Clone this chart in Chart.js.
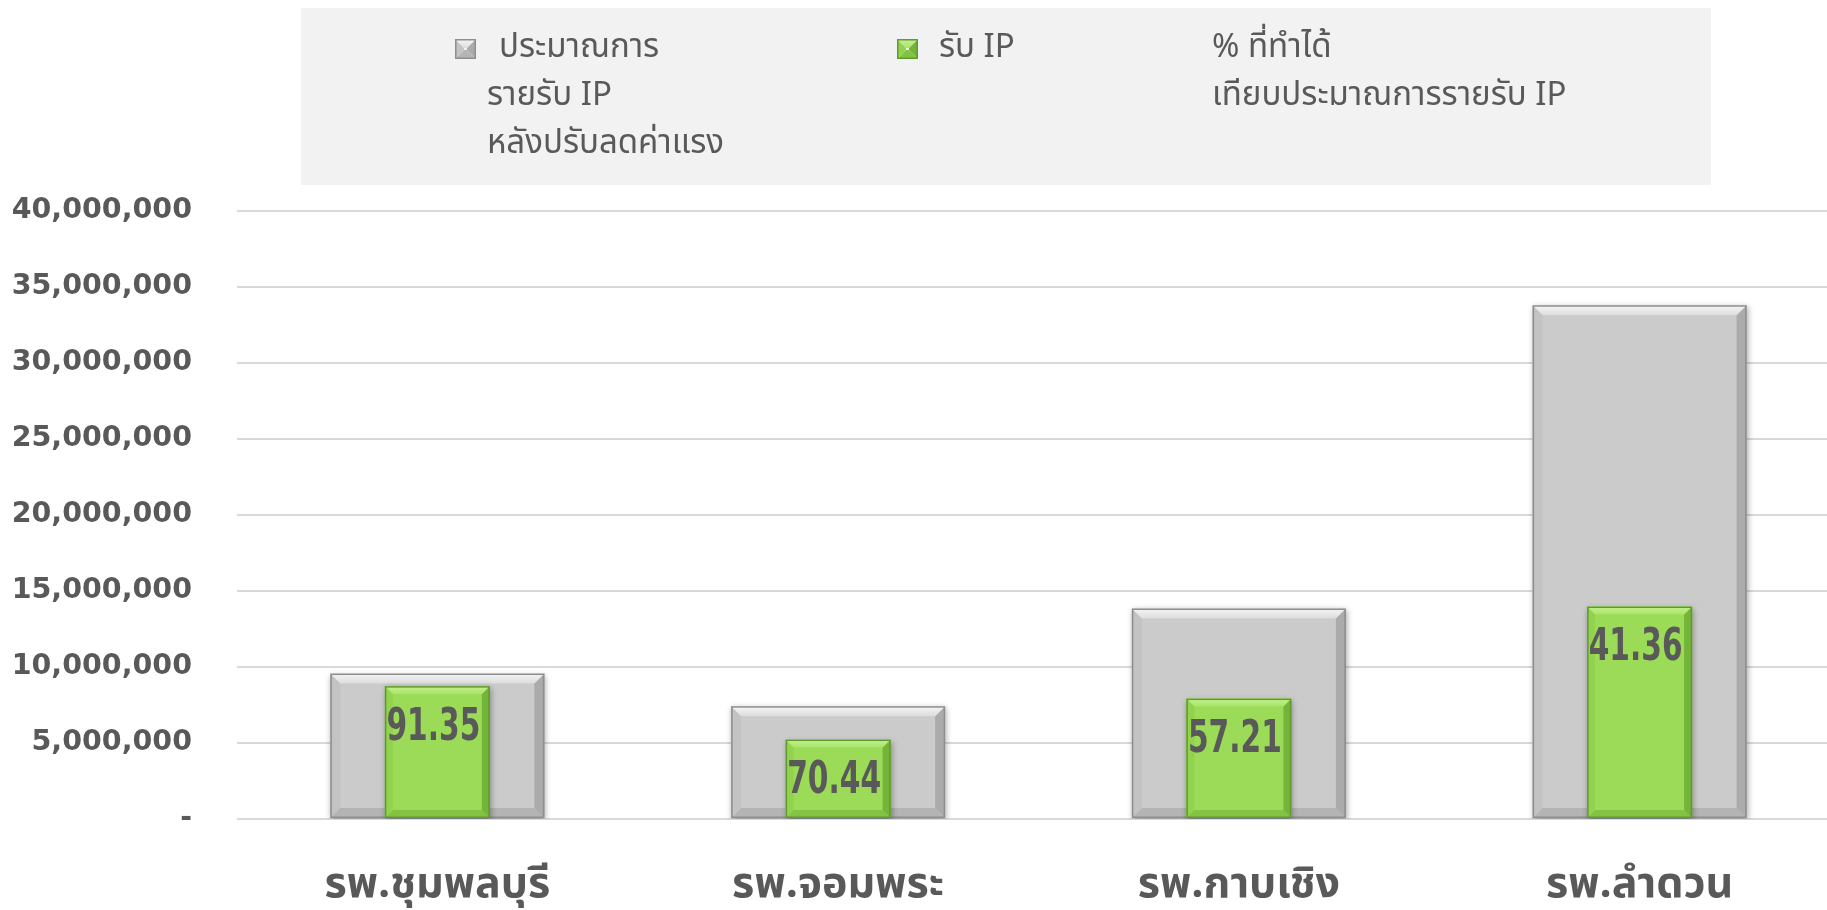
<!DOCTYPE html>
<html><head><meta charset="utf-8">
<script src="https://cdn.jsdelivr.net/npm/chart.js@4.4.1/dist/chart.umd.min.js"></script>
<style>html,body{margin:0;padding:0;background:#fff;overflow:hidden;width:1827px;height:910px}canvas{display:block}</style>
</head><body><canvas id="c" width="1840" height="910"></canvas>
<script>
// ---- data ----
const categories = ['รพ.ชุมพลบุรี', 'รพ.จอมพระ', 'รพ.กาบเชิง', 'รพ.ลำดวน'];
const budgetIP = [9570000, 7420000, 13850000, 33800000];     // ประมาณการรายรับ IP หลังปรับลดค่าแรง
const receivedIP = [8742000, 5227000, 7924000, 13980000];    // รับ IP
const pctAchieved = [91.35, 70.44, 57.21, 41.36];            // % ที่ทำได้
const yTickValues = [0, 5000000, 10000000, 15000000, 20000000, 25000000, 30000000, 35000000, 40000000];
const seriesNames = [
  ['ประมาณการ', 'รายรับ IP', 'หลังปรับลดค่าแรง'],
  ['รับ IP'],
  ['% ที่ทำได้', 'เทียบประมาณการรายรับ IP']
];

const THAI = '"Noto Sans Thai", "Noto Sans", "DejaVu Sans", sans-serif';
const TXT = '#595959';

const styles = {
  gray: {fill: '#cbcbcb', top: ['#f6f6f6', '#dcdcdc'], left: '#c3c3c3', right: '#ababab', bottom: '#b4b4b4', edge: '#8e8e8e'},
  green: {fill: '#9bdb57', top: ['#c4f190', '#a8e468'], left: '#92d34e', right: '#74b438', bottom: '#82c343', edge: '#5f9a2f'}
};

function bevel(ctx, x0, x1, yt, yb, b, s) {
  ctx.save();
  const poly = (pts, fill) => { ctx.beginPath(); ctx.moveTo(pts[0][0], pts[0][1]); for (let i = 1; i < pts.length; i++) ctx.lineTo(pts[i][0], pts[i][1]); ctx.closePath(); ctx.fillStyle = fill; ctx.fill(); };
  const g = ctx.createLinearGradient(0, yt, 0, yt + b);
  g.addColorStop(0, s.top[0]); g.addColorStop(1, s.top[1]);
  poly([[x0, yb], [x1, yb], [x1 - b, yb - b], [x0 + b, yb - b]], s.bottom);
  poly([[x0, yt], [x0 + b, yt + b], [x0 + b, yb - b], [x0, yb]], s.left);
  poly([[x1, yt], [x1, yb], [x1 - b, yb - b], [x1 - b, yt + b]], s.right);
  poly([[x0, yt], [x1, yt], [x1 - b, yt + b], [x0 + b, yt + b]], g);
  ctx.strokeStyle = s.edge; ctx.lineWidth = 1.5;
  ctx.strokeRect(x0 + 0.75, yt + 0.75, x1 - x0 - 1.5, yb - yt - 1.5);
  ctx.restore();
}

const bevelPlugin = {
  id: 'bevel',
  beforeDatasetDraw(chart, args) {
    if (args.meta.type !== 'bar') return;
    const ctx = chart.ctx;
    ctx.save();
    ctx.shadowColor = 'rgba(0,0,0,0.35)';
    ctx.shadowBlur = 6; ctx.shadowOffsetX = 1; ctx.shadowOffsetY = 2;
  },
  afterDatasetDraw(chart, args) {
    if (args.meta.type !== 'bar') return;
    const ctx = chart.ctx;
    ctx.restore();
    const st = args.index === 0 ? styles.gray : styles.green;
    const b = args.index === 0 ? 10 : 8;
    args.meta.data.forEach(el => {
      const p = el.getProps(['x', 'y', 'base', 'width'], true);
      bevel(ctx, p.x - p.width / 2, p.x + p.width / 2, p.y, p.base, b, st);
    });
  }
};

const pctLabels = {
  id: 'pctLabels',
  afterDatasetsDraw(chart) {
    const ctx = chart.ctx;
    const green = chart.getDatasetMeta(1).data;
    const vals = chart.data.datasets[2].data;
    green.forEach((el, i) => {
      ctx.save();
      ctx.translate(el.x - 4, el.y + 42);
      ctx.scale(0.66, 1);
      ctx.font = 'bold 45px "DejaVu Sans", sans-serif';
      ctx.fillStyle = TXT; ctx.textAlign = 'center'; ctx.textBaseline = 'middle';
      ctx.fillText(vals[i].toFixed(2), 0, 0);
      ctx.restore();
    });
  }
};

const boxLegend = {
  id: 'boxLegend',
  beforeDraw(chart) {
    const ctx = chart.ctx;
    ctx.save();
    ctx.fillStyle = '#f2f2f2';
    ctx.fillRect(301, 8, 1410, 177);
    const ds = chart.data.datasets;
    const items = [
      {mx: 455, tx: 499, tx2: 487, st: styles.gray},
      {mx: 897, tx: 939, tx2: 939, st: styles.green},
      {mx: null, tx: 1212, tx2: 1212, st: null}
    ];
    ctx.font = '33px ' + THAI;
    ctx.textBaseline = 'middle'; ctx.textAlign = 'left';
    items.forEach((it, i) => {
      if (it.st) bevel(ctx, it.mx, it.mx + 21, 39, 59, 9, it.st);
      const lines = ds[i].label;
      lines.forEach((ln, j) => {
        ctx.fillStyle = TXT;
        ctx.fillText(ln, j === 0 ? it.tx : it.tx2, 50 + j * 48);
      });
    });
    ctx.restore();
  }
};

new Chart(document.getElementById('c'), {
  data: {
    labels: categories,
    datasets: [
      {type: 'bar', label: seriesNames[0], data: budgetIP, backgroundColor: styles.gray.fill, grouped: false,
       barPercentage: 0.534, categoryPercentage: 1, order: 2},
      {type: 'bar', label: seriesNames[1], data: receivedIP, backgroundColor: styles.green.fill, grouped: false,
       barPercentage: 0.262, categoryPercentage: 1, order: 1},
      {type: 'line', label: seriesNames[2], data: pctAchieved, yAxisID: 'yPct', showLine: false,
       pointRadius: 0, pointHoverRadius: 0, order: 0}
    ]
  },
  options: {
    responsive: false,
    animation: false,
    devicePixelRatio: 1,
    layout: {padding: {top: 211, left: 0, right: 0, bottom: 0}},
    plugins: {legend: {display: false}, tooltip: {enabled: false}},
    scales: {
      x: {
        grid: {display: false, drawTicks: false},
        border: {display: false},
        ticks: {color: TXT, padding: 44, font: {family: THAI, size: 43, weight: 'bold'}},
        afterFit(s) { s.height = 91; }
      },
      y: {
        min: 0, max: 40000000,
        afterBuildTicks(s) { s.ticks = yTickValues.map(v => ({value: v})); },
        grid: {color: '#d9d9d9', lineWidth: 2, drawTicks: false},
        border: {display: false},
        ticks: {
          color: TXT, padding: 45,
          font: {family: '"DejaVu Sans", sans-serif', size: 28.5, weight: 'bold'},
          callback: v => v === 0 ? '-' : Number(v).toLocaleString('en-US')
        },
        afterFit(s) { s.width = 237; }
      },
      yPct: {display: false, min: 0, max: 100}
    }
  },
  plugins: [boxLegend, bevelPlugin, pctLabels]
});
</script></body></html>
